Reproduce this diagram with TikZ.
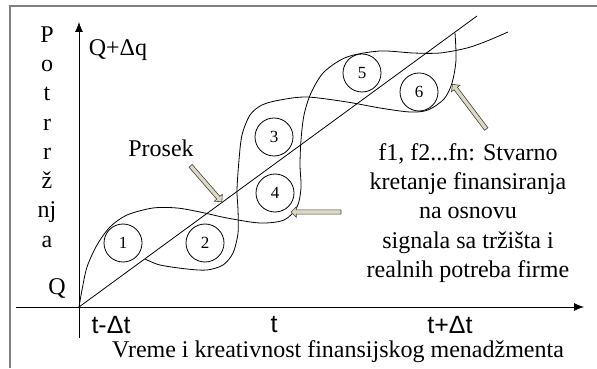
\documentclass[tikz,border=0pt]{standalone}
\usepackage{fontspec}
\setmainfont{Liberation Serif}
\setsansfont{Liberation Sans}
\usetikzlibrary{arrows.meta}
\usetikzlibrary{shapes.arrows}
\definecolor{hintfill}{RGB}{221,217,195}

\begin{document}
\begin{tikzpicture}[x=0.5pt, y=-0.5pt, font=\fontsize{12}{14.65}\selectfont,
  num/.style={circle, draw, minimum size=19pt, inner sep=0pt, font=\fontsize{8.5}{9}\selectfont},
  hint/.style={single arrow, draw=black!75, fill=hintfill, inner sep=0.9pt,
    single arrow head extend=1.6pt, line width=0.3pt},
  tlabel/.style={font=\sffamily\fontsize{12.5}{14}\selectfont}]
\useasboundingbox (0,0) rectangle (597,368);
\draw [gray, line width=0.8pt] (10,368) -- (10,6) -- (597,6);
\draw [-{Latex[length=5pt,width=4pt]}] (16,307) -- (584,307);
\draw [-{Latex[length=5pt,width=4pt]}] (79,338) -- (79,22);
\coordinate (o) at (79,307);
\draw (o) -- (477,16) coordinate(e);
\draw plot[smooth] coordinates {(o) (82,290) (87,267) (97,245) (110,227) (127,215)
  (153,208) (177,208) (200,212) (227,218) (260,223) (284,220) (297,207) (301,188)
  (300,165) (301,140) (304,115) (311,93) (324,72) (347,57) (380,51) (413,53)
  (440,53) (467,48) (487,41) (508,32)};
\draw plot[smooth] coordinates {(145,259) (160,265) (187,269) (207,270) (223,265)
  (233,253) (238,233) (238,210) (237,190) (239,160) (242,135) (250,115) (262,105)
  (280,100) (307,97) (347,102) (380,108) (410,112) (428,110) (444,99) (452,83)
  (456,60) (455,33)};
\node[num] (c1) at (123,243) {1};
\node[num] (c2) at (205,243) {2};
\node[num] (c3) at (274,137) {3};
\node[num] (c4) at (275,193) {4};
\node[num] (c5) at (362,73) {5};
\node[num] (c6) at (419,92) {6};
\node[hint, minimum height=23.8pt, rotate=-49] (aprosek) at (205.5,183) {};
\node[hint, minimum height=25pt, rotate=180] (amid) at (317,212) {};
\node[hint, minimum height=28pt, rotate=127] (aright) at (470,107.5) {};
\node (qdq) at (118,50) {Q+Δq};
\node (prosek) at (161,148) {Prosek};
\node[align=center] (potr) at (47,137) {P\\o\\t\\r\\r\\ž\\nj\\a};
\node (q) at (57,288) {Q};
\node[align=center] (opis) at (468,213) {f1, f2...fn: Stvarno\\kretanje finansiranja\\na osnovu\\signala sa tržišta i\\realnih potreba firme};
\node[tlabel] (t0) at (111,325) {t-Δt};
\node[tlabel] (t1) at (274,325) {t};
\node[tlabel] (t2) at (450,325) {t+Δt};
\node (vreme) at (338,352) {Vreme i kreativnost finansijskog menadžmenta};
\end{tikzpicture}
\end{document}
